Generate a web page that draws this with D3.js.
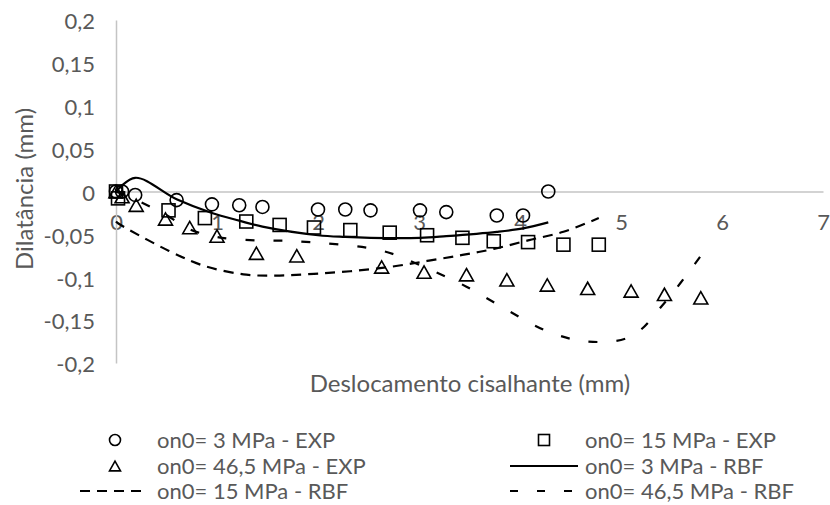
<!DOCTYPE html>
<html>
<head>
<meta charset="utf-8">
<script src="https://cdn.jsdelivr.net/npm/d3@7"></script>
<style>
  html, body { margin: 0; padding: 0; background: #fff; }
  svg text { font-family: Lato, "Open Sans", sans-serif; fill: #595959; }
</style>
</head>
<body>
<svg id="chart" width="830" height="505"></svg>
<script>
// Experimental points (shear displacement mm, dilatancy mm)
const exp3X  = [0, 0.06, 0.19, 0.6, 0.95, 1.22, 1.45, 2.0, 2.27, 2.52, 3.01, 3.27, 3.77, 4.03, 4.28];
const exp3Y  = [0, 0, -0.004, -0.01, -0.015, -0.016, -0.018, -0.021, -0.021, -0.022, -0.022, -0.024, -0.028, -0.028, 0];
const exp15X = [0, 0.02, 0.52, 0.88, 1.29, 1.62, 1.96, 2.32, 2.71, 3.08, 3.43, 3.74, 4.08, 4.43, 4.78];
const exp15Y = [0, -0.008, -0.022, -0.031, -0.035, -0.039, -0.042, -0.045, -0.048, -0.051, -0.054, -0.058, -0.059, -0.062, -0.062];
const exp46X = [0, 0.06, 0.2, 0.49, 0.73, 1.0, 1.39, 1.79, 2.63, 3.05, 3.47, 3.87, 4.27, 4.67, 5.1, 5.43, 5.79];
const exp46Y = [0, -0.006, -0.016, -0.032, -0.042, -0.052, -0.072, -0.075, -0.088, -0.094, -0.097, -0.103, -0.109, -0.113, -0.116, -0.12, -0.124];

// RBF model curves
const rbf3X  = [0, 0.19, 0.6, 0.95, 1.22, 1.45, 2.0, 2.27, 2.52, 3.01, 3.27, 3.77, 4.03, 4.28];
const rbf3Y  = [0, 0.016, -0.009, -0.025, -0.034, -0.041, -0.051, -0.053, -0.054, -0.054, -0.052, -0.047, -0.043, -0.036];
const rbf15X = [0, 0.02, 0.52, 0.88, 1.29, 1.62, 1.96, 2.32, 2.71, 3.08, 3.43, 3.74, 4.08, 4.43, 4.78];
const rbf15Y = [-0.035, -0.037, -0.069, -0.087, -0.097, -0.098, -0.096, -0.093, -0.088, -0.081, -0.074, -0.067, -0.057, -0.047, -0.031];
const rbf46X = [0, 0.06, 0.2, 0.49, 0.73, 1.0, 1.39, 1.79, 2.63, 3.05, 3.47, 3.87, 4.27, 4.67, 5.1, 5.43, 5.79];
const rbf46Y = [0, -0.003, -0.01, -0.027, -0.044, -0.053, -0.057, -0.058, -0.069, -0.088, -0.111, -0.138, -0.163, -0.175, -0.169, -0.13, -0.075];

// Axis ticks
const xTicks = [0, 1, 2, 3, 4, 5, 6, 7];
const yTicks = [-0.2, -0.15, -0.1, -0.05, 0, 0.05, 0.1, 0.15, 0.2];

const legendLabels = [
  "on0= 3 MPa - EXP", "on0= 15 MPa - EXP",
  "on0= 46,5 MPa - EXP", "on0= 3 MPa - RBF",
  "on0= 15 MPa - RBF", "on0= 46,5 MPa - RBF"
];

const svg = d3.select("#chart");
const x = d3.scaleLinear().domain([0, 7]).range([116, 823]);
const y = d3.scaleLinear().domain([-0.2, 0.2]).range([363, 20]);
const fmt = v => String(+v.toFixed(2)).replace(".", ",");

const axisColor = "#c4c4c4";

// Horizontal axis through zero
const xAxis = svg.append("g").attr("transform", `translate(0,${y(0)})`)
  .call(d3.axisBottom(x).tickValues(xTicks).tickSize(0).tickFormat(fmt));
xAxis.select(".domain").attr("stroke", axisColor).attr("stroke-width", 1.5);
xAxis.selectAll("text").attr("font-size", 22).attr("y", 38).attr("dy", null);

// Vertical axis
const yAxis = svg.append("g").attr("transform", `translate(${x(0)},0)`)
  .call(d3.axisLeft(y).tickValues(yTicks).tickSize(0).tickFormat(fmt));
yAxis.select(".domain").attr("stroke", axisColor).attr("stroke-width", 1.5);
yAxis.selectAll("text").attr("font-size", 22).attr("x", -21).attr("dy", "0.4em");

// Axis titles
svg.append("text").attr("x", 470).attr("y", 392).attr("text-anchor", "middle")
  .attr("font-size", 24).text("Deslocamento cisalhante (mm)");
svg.append("text").attr("transform", "translate(33,189) rotate(-90)")
  .attr("text-anchor", "middle").attr("font-size", 24).text("Dilatância (mm)");

const zip = (xs, ys) => xs.map((v, i) => [v, ys[i]]);
const line = d3.line().x(d => x(d[0])).y(d => y(d[1])).curve(d3.curveCatmullRom.alpha(0.5));

const plot = svg.append("g");
const lines = [
  { data: zip(rbf3X, rbf3Y), dash: null },
  { data: zip(rbf15X, rbf15Y), dash: "10,7" },
  { data: zip(rbf46X, rbf46Y), dash: "9,19" }
];
lines.forEach(l => {
  plot.append("path").attr("d", line(l.data)).attr("fill", "none")
    .attr("stroke", "#000").attr("stroke-width", 2.2)
    .attr("stroke-dasharray", l.dash);
});

// Marker shapes
function marker(g, kind, cx, cy, s) {
  if (kind === "circle") {
    g.append("circle").attr("cx", cx).attr("cy", cy).attr("r", s / 2);
  } else if (kind === "square") {
    g.append("rect").attr("x", cx - s / 2).attr("y", cy - s / 2).attr("width", s).attr("height", s);
  } else {
    const h = s * 0.88;
    g.append("path").attr("d", `M${cx},${cy - h / 2}L${cx + s / 2},${cy + h / 2}L${cx - s / 2},${cy + h / 2}Z`);
  }
}

const markers = plot.append("g").attr("fill", "none").attr("stroke", "#000").attr("stroke-width", 1.6);
zip(exp3X, exp3Y).forEach(d => marker(markers, "circle", x(d[0]), y(d[1]), 13));
zip(exp15X, exp15Y).forEach(d => marker(markers, "square", x(d[0]), y(d[1]), 13));
zip(exp46X, exp46Y).forEach(d => marker(markers, "triangle", x(d[0]), y(d[1]), 14));

// Legend
const leg = svg.append("g");
const rows = [440, 466, 491];
const cols = [{ mx: 115, tx: 157, lx0: 80, lx1: 147 }, { mx: 544, tx: 585, lx0: 510, lx1: 578 }];
const legItems = [
  { kind: "circle" }, { kind: "square" },
  { kind: "triangle" }, { dash: null },
  { dash: "10,7" }, { dash: "8,19" }
];
legItems.forEach((it, i) => {
  const c = cols[i % 2], ry = rows[Math.floor(i / 2)];
  const g = leg.append("g");
  if (it.kind) {
    g.attr("fill", "none").attr("stroke", "#000").attr("stroke-width", 1.6);
    marker(g, it.kind, c.mx, ry, 11);
  } else {
    g.append("line").attr("x1", c.lx0).attr("x2", c.lx1).attr("y1", ry).attr("y2", ry)
      .attr("stroke", "#000").attr("stroke-width", 2.2).attr("stroke-dasharray", it.dash);
  }
  leg.append("text").attr("x", c.tx).attr("y", ry).attr("dy", "0.36em")
    .attr("font-size", 22).text(legendLabels[i]);
});
</script>
</body>
</html>
